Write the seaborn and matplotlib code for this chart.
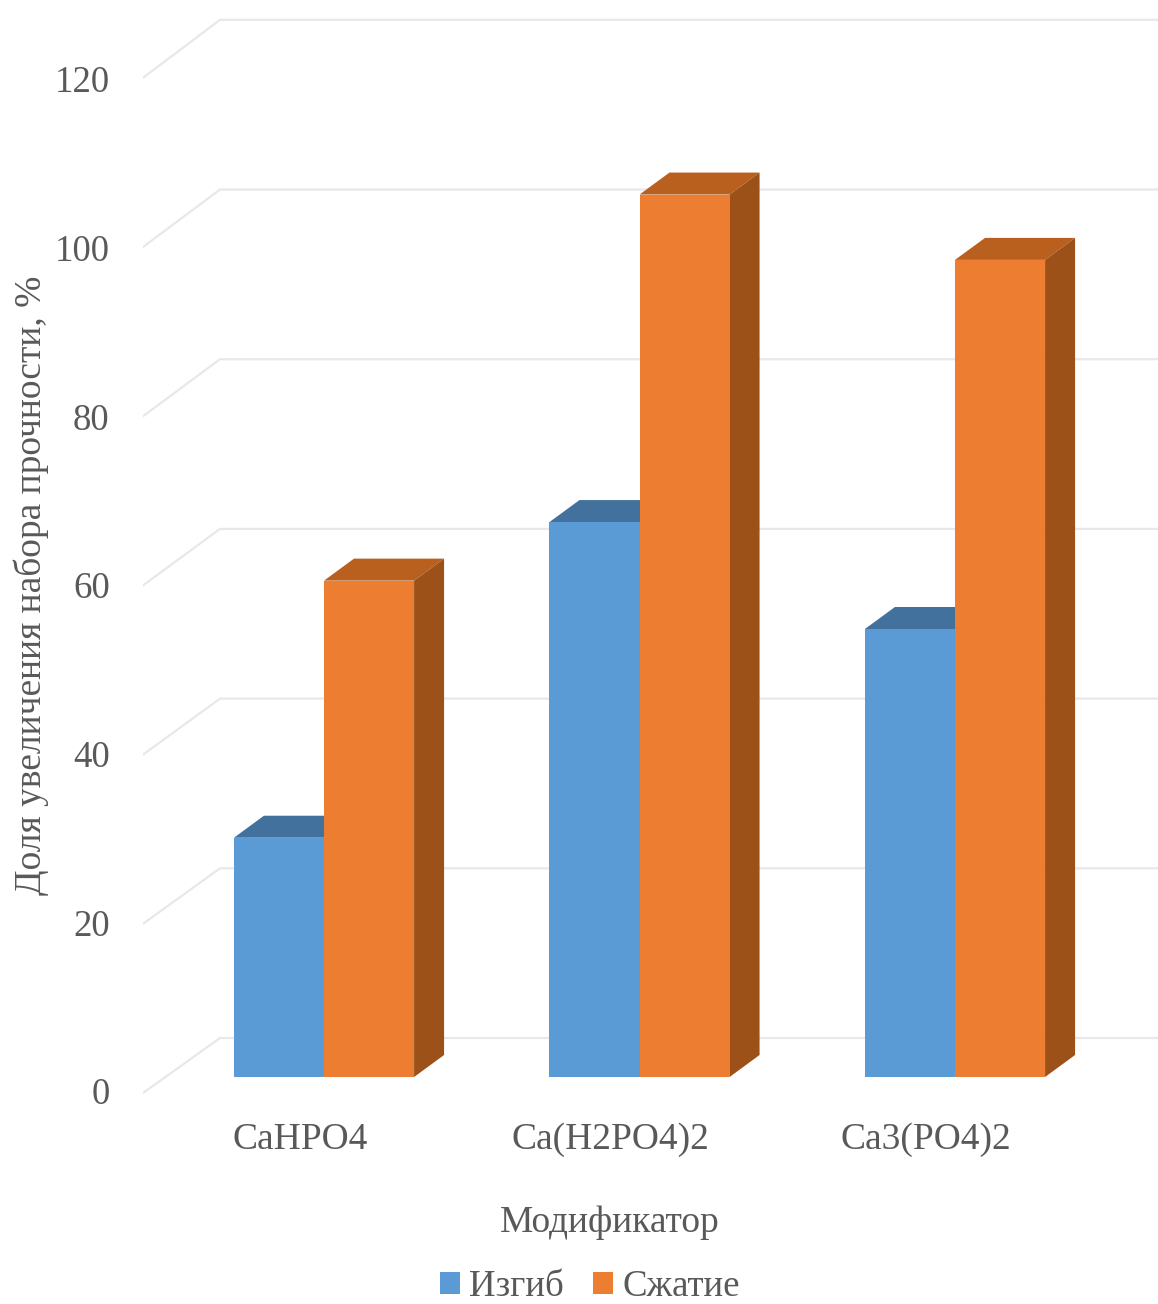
import matplotlib
matplotlib.use('Agg')
import matplotlib.pyplot as plt
from matplotlib.transforms import ScaledTranslation
import pandas as pd
import seaborn as sns

modifiers = ['CaHPO4', 'Ca(H2PO4)2', 'Ca3(PO4)2']
bending = [28.2, 65.4, 52.8]
compression = [58.5, 104.0, 96.3]
grid_levels = [0, 20, 40, 60, 80, 100, 120]
series_names = ['Изгиб', 'Сжатие']

TEXT = '#595959'
GRID = '#E8E8E8'
FRONT = ['#5B9BD5', '#ED7D31']
TOP = ['#41719C', '#B9601F']
SIDE = ['#41719C', '#9C5118']

# figure pixel geometry of the fake 3d frame
W, H = 1158, 1304
PX_X = 315.5   # pixels per category
PX_Y = 8.485   # pixels per value unit

sns.set_theme(style='white')
plt.rcParams['font.family'] = ['Liberation Serif']

df = pd.DataFrame({
    'modifier': modifiers * 2,
    'value': bending + compression,
    'series': [series_names[0]] * 3 + [series_names[1]] * 3,
})

fig = plt.figure(figsize=(W / 100, H / 100), dpi=100)
ax = fig.add_axes([143 / W, (H - 1100) / H, (W - 143) / W, 1100 / H])
ax.patch.set_alpha(0)

sns.barplot(data=df, x='modifier', y='value', hue='series', order=modifiers,
            hue_order=series_names, palette=FRONT, width=0.571, gap=0,
            saturation=1, ax=ax, zorder=3, linewidth=0)

ax.set_xlim((143 - 324) / PX_X, (W - 324) / PX_X)
ax.set_ylim(-23 / PX_Y, 1077 / PX_Y)

# back wall and left wall lines
back_x = (220 - 324) / PX_X
for lev in grid_levels:
    back_y = lev + 39 / PX_Y
    tip_y = lev * 0.997 - 16 / PX_Y
    ax.plot([ax.get_xlim()[0], back_x, ax.get_xlim()[1]], [tip_y, back_y, back_y],
            color=GRID, lw=1.6, zorder=1, solid_joinstyle='round')

# depth faces built from the seaborn bars
dx = 30 / PX_X
dy = 22 / PX_Y
for i, cont in enumerate(ax.containers):
    for bar in cont:
        x0, w, h = bar.get_x(), bar.get_width(), bar.get_height()
        ax.fill([x0, x0 + w, x0 + w + dx, x0 + dx], [h, h, h + dy, h + dy],
                color=TOP[i], lw=0, zorder=2.5)
        ax.fill([x0 + w, x0 + w + dx, x0 + w + dx, x0 + w], [0, dy, h + dy, h],
                color=SIDE[i], lw=0, zorder=2.5)

# value axis sits on the left wall tips, slightly different scale to the bars
ax2 = ax.twinx()
ax2.set_ylim((1091 - 1100) / 8.433, 1091 / 8.433)
ax2.set_yticks(grid_levels)
ax2.yaxis.tick_left()
ax2.tick_params(axis='y', length=0, pad=24, labelsize=26.5, labelcolor=TEXT)
ax2.grid(False)

ax.set_yticks([])
ax.set_ylabel('')
ax.tick_params(axis='x', length=0, pad=16, labelsize=27, labelcolor=TEXT)
for lab, px in zip(ax.get_xticklabels(), [-24, -29, -29]):
    shift = ScaledTranslation(px / 100, 0, fig.dpi_scale_trans)
    lab.set_transform(lab.get_transform() + shift)

for a in (ax, ax2):
    sns.despine(ax=a, left=True, bottom=True)

ax.set_xlabel('')
fig.text(610 / W, 1 - 1223 / H, 'Модификатор', ha='center', va='center',
         fontsize=27, color=TEXT)
fig.text(31 / W, 1 - 585 / H, 'Доля увеличения набора прочности, %', rotation=90,
         ha='center', va='center', fontsize=27, color=TEXT)

handles, labels = ax.get_legend_handles_labels()
ax.get_legend().remove()
fig.legend(handles, labels, loc='center', bbox_to_anchor=(590 / W, 1 - 1287 / H),
           ncol=2, frameon=False, fontsize=26.6, labelcolor=TEXT, handlelength=0.53,
           handleheight=0.53, handletextpad=0.25, columnspacing=0.8, borderpad=0)

fig.savefig('out.png', dpi=100)
